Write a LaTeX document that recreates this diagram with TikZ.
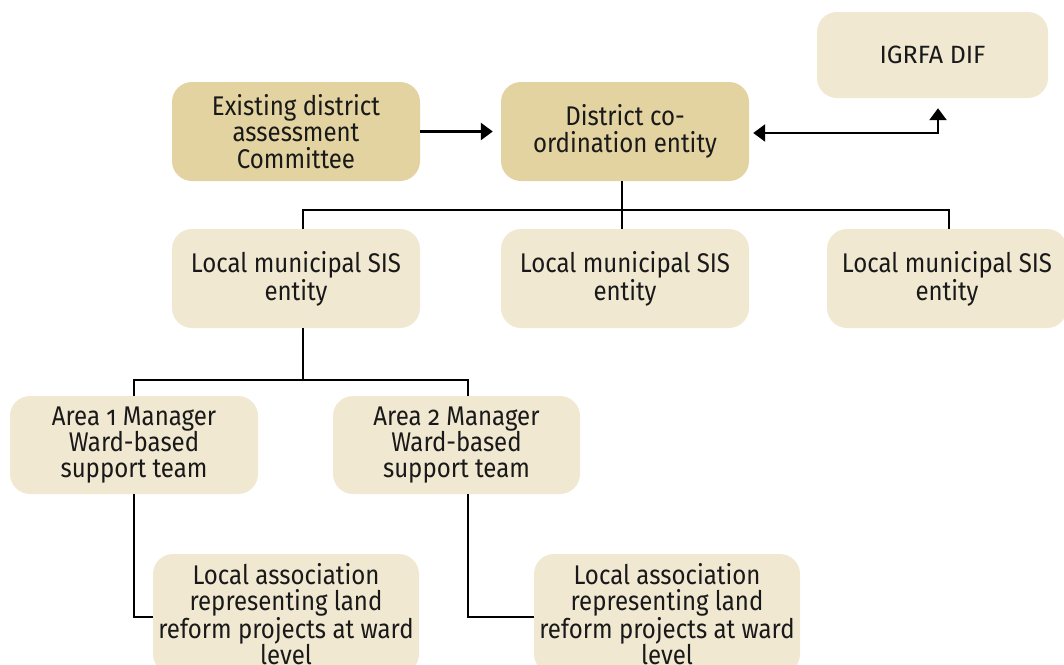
\documentclass[tikz,border=0pt]{standalone}
\usepackage{fontspec}
\setmainfont[FakeStretch=0.89,Numbers=OldStyle]{Fira Sans}
\newfontfamily\plainfont{Fira Sans}
\usetikzlibrary{arrows.meta}
\definecolor{darkbox}{HTML}{E3D3A1}
\definecolor{lightbox}{HTML}{F1E8D2}
\begin{document}
\begin{tikzpicture}[x=1pt,y=-1pt,
  box/.style={rounded corners=20pt, align=center, inner sep=0pt,
    font=\fontsize{27}{26.4}\selectfont, text=black!90},
  dbox/.style={box, fill=darkbox},
  lbox/.style={box, fill=lightbox},
  conn/.style={line width=2.5pt, black},
  tip/.style={-{Triangle[length=12pt,width=17pt]}}]
\useasboundingbox (0,0) rectangle (1064,664);
\node[dbox, minimum width=248pt, minimum height=99pt] (ex) at (296,131.5) {Existing district\\assessment\\Committee};
\node[dbox, minimum width=248pt, minimum height=99pt] (dc) at (625,131.5) {District co-\\ordination entity};
\node[lbox, minimum width=231pt, minimum height=86pt, font=\plainfont\fontsize{25}{26.4}\selectfont] (ig) at (932.5,55) {IGRFA DIF};
\node[lbox, minimum width=248pt, minimum height=99pt] (s1) at (296,278.5) {Local municipal SIS\\entity};
\node[lbox, minimum width=248pt, minimum height=99pt] (s2) at (625,278.5) {Local municipal SIS\\entity};
\node[lbox, minimum width=240pt, minimum height=99pt] (s3) at (947,278.5) {Local municipal SIS\\entity};
\node[lbox, minimum width=248pt, minimum height=98pt] (a1) at (134,445) {Area 1 Manager\\Ward-based\\support team};
\node[lbox, minimum width=247pt, minimum height=98pt] (a2) at (456.5,445) {Area 2 Manager\\Ward-based\\support team};
\node[lbox, minimum width=266pt, minimum height=120pt] (l1) at (286,614) {Local association\\representing land\\reform projects at ward\\level};
\node[lbox, minimum width=266pt, minimum height=120pt] (l2) at (667,614) {Local association\\representing land\\reform projects at ward\\level};
% arrows
\draw[conn, tip, shorten >=8pt] (ex.east) -- (dc.west);
\coordinate (igin) at ([xshift=5.5pt]ig.south);
\draw[conn, {Triangle[length=12pt,width=17pt]}-{Triangle[length=12pt,width=17pt]}, shorten <=4pt, shorten >=10pt]
  ([yshift=-1.5pt]dc.east) -| (igin);
% first tree
\coordinate (dcs) at ([xshift=-3pt]dc.south);
\draw[conn] (dcs) -- ([xshift=-3pt]s2.north);
\draw[conn] ([xshift=7pt]s1.north) |- ([yshift=19pt]s2.north) -| ([xshift=2pt]s3.north);
% second tree
\coordinate (s1s) at ([xshift=7pt]s1.south);
\draw[conn] (s1s) -- ++(0,52) coordinate (bus2);
\draw[conn] (a1.north) |- (bus2) -| ([xshift=11.5pt]a2.north);
% to local associations
\draw[conn] (a1.south) |- ([yshift=-3pt]l1.west);
\draw[conn] ([xshift=11.5pt]a2.south) |- ([yshift=-3pt]l2.west);
\end{tikzpicture}
\end{document}
